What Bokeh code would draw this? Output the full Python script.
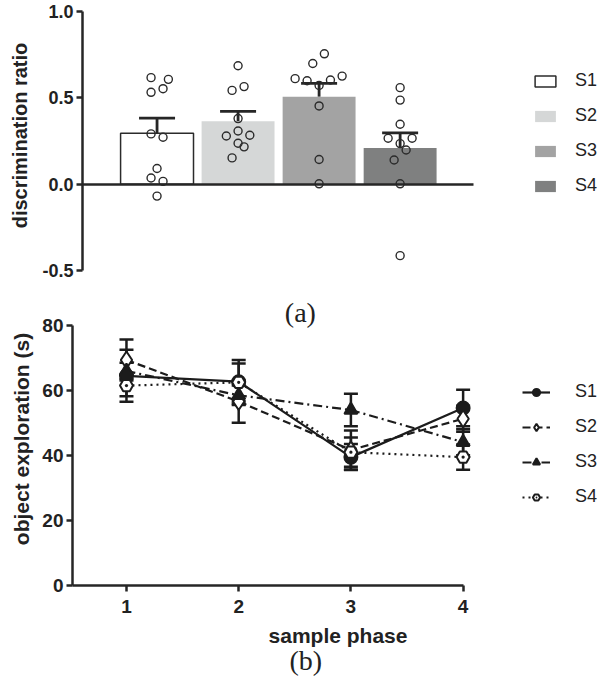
from bokeh.plotting import figure
from bokeh.models import (Range1d, LinearAxis, FixedTicker, NumeralTickFormatter, Whisker,
                          TeeHead, ColumnDataSource, Legend, LegendItem, Label, Title)
from bokeh.layouts import column
from bokeh.embed import file_html
from bokeh.resources import INLINE

# ---------------- data (a) ----------------
groups = ["S1", "S2", "S3", "S4"]
group_pos = [1, 2, 3, 4]
bar_means = [0.295, 0.364, 0.506, 0.209]
bar_sem = [0.088, 0.058, 0.078, 0.088]
bar_colors = ["#ffffff", "#d5d7d7", "#a3a3a3", "#7f8080"]
bar_lines = ["#2b2b2b", None, None, None]

pts_S1 = [0.617, 0.607, 0.532, 0.553, 0.291, 0.272, 0.091, 0.036, 0.016, -0.069]
pts_S2 = [0.686, 0.543, 0.565, 0.380, 0.279, 0.308, 0.283, 0.237, 0.216, 0.152]
pts_S3 = [0.755, 0.699, 0.611, 0.599, 0.572, 0.603, 0.626, 0.453, 0.143, 0.002]
pts_S4 = [0.559, 0.487, 0.347, 0.266, 0.266, 0.235, 0.198, 0.140, 0.002, -0.414]
jit_S1 = [-0.074, 0.14, -0.074, 0.074, -0.074, 0.074, 0.0, -0.074, 0.074, 0.0]
jit_S2 = [0.0, -0.074, 0.074, 0.0, -0.145, 0.0, 0.145, 0.0, 0.074, -0.074]
jit_S3 = [0.065, -0.078, -0.296, -0.148, 0.0, 0.14, 0.284, 0.0, 0.0, 0.0]
jit_S4 = [0.0, 0.0, 0.0, -0.148, 0.148, 0.0, 0.074, -0.074, 0.0, 0.0]

# ---------------- data (b) ----------------
phases = [1, 2, 3, 4]
expl_S1 = [64.5, 62.7, 39.5, 54.6]
expl_S2 = [69.4, 56.6, 41.7, 51.3]
expl_S3 = [66.0, 58.5, 54.0, 44.1]
expl_S4 = [61.5, 62.5, 41.0, 39.5]
sem_S1 = [8.0, 6.7, 4.0, 5.6]
sem_S2 = [6.3, 6.5, 6.0, 4.0]
sem_S3 = [2.5, 3.0, 5.0, 4.0]
sem_S4 = [3.3, 5.8, 4.5, 3.9]

FONT = "Liberation Sans"
AX = "#262626"

def style_axis(ax, tick_size, label_size):
    ax.axis_line_width = 2.5
    ax.axis_line_color = AX
    ax.major_tick_line_width = 2.5
    ax.major_tick_line_color = AX
    ax.major_tick_out = 6
    ax.major_tick_in = 0
    ax.minor_tick_line_color = None
    ax.major_label_text_font = FONT
    ax.major_label_text_font_style = "bold"
    ax.major_label_text_font_size = tick_size
    ax.major_label_text_color = "#222222"
    ax.axis_label_text_font = FONT
    ax.axis_label_text_font_style = "bold"
    ax.axis_label_text_font_size = label_size
    ax.axis_label_text_color = "#222222"

# ================= panel (a) =================
p1 = figure(width=603, height=292, x_range=Range1d(0.08, 6.51), y_range=Range1d(-0.5, 1.0637),
            output_backend="svg", toolbar_location=None, x_axis_location=None,
            frame_align=False,
            min_border_left=82, min_border_right=0, min_border_top=0, min_border_bottom=22)
p1.grid.visible = False
p1.outline_line_color = None

yax = p1.yaxis[0]
yax.ticker = FixedTicker(ticks=[-0.5, 0.0, 0.5, 1.0])
yax.formatter = NumeralTickFormatter(format="0.0")
yax.bounds = (-0.5, 1.0)
yax.axis_label = "discrimination ratio"
style_axis(yax, "18px", "20px")
yax.major_label_standoff = 3
yax.axis_label_standoff = 8

zero_axis = LinearAxis(fixed_location=0, bounds=(0.08, 4.91), ticker=FixedTicker(ticks=[]))
zero_axis.axis_line_width = 2.5
zero_axis.axis_line_color = AX
zero_axis.major_tick_line_color = None
zero_axis.minor_tick_line_color = None
zero_axis.major_tick_out = 0
zero_axis.major_label_standoff = 0
zero_axis.major_label_text_font_size = "0px"
p1.add_layout(zero_axis, "below")

bar_src = ColumnDataSource(dict(x=group_pos, top=bar_means, color=bar_colors, line=bar_lines,
                                upper=[m + s for m, s in zip(bar_means, bar_sem)]))
bars = p1.vbar(x="x", top="top", width=0.9, fill_color="color", line_color="line",
               line_width=1.5, source=bar_src)

wh = Whisker(base="x", lower="top", upper="upper", source=bar_src, dimension="height",
             line_width=2.8, line_color=AX,
             upper_head=TeeHead(size=36, line_width=2.8, line_color=AX), lower_head=None)
p1.add_layout(wh)

for pos, pts, jit in zip(group_pos, [pts_S1, pts_S2, pts_S3, pts_S4],
                         [jit_S1, jit_S2, jit_S3, jit_S4]):
    p1.scatter(x=[pos + j for j in jit], y=pts, size=8, fill_color=None,
               line_color="#2b2b2b", line_width=1.4)

leg1 = Legend(items=[LegendItem(label=g, renderers=[bars], index=i) for i, g in enumerate(groups)],
              location=(450, 74), padding=0, margin=0, spacing=14, glyph_width=26,
              glyph_height=14, label_standoff=17, label_height=19,
              label_text_font=FONT, label_text_font_size="18px", label_text_color="#222222",
              border_line_alpha=0, background_fill_alpha=0)
p1.add_layout(leg1)

# ================= panel (b) =================
p2 = figure(width=603, height=389, x_range=Range1d(0.519, 5.251), y_range=Range1d(0, 90.15),
            output_backend="svg", toolbar_location=None, frame_align=False,
            min_border_left=72, min_border_right=0, min_border_top=0, min_border_bottom=96)
p2.grid.visible = False
p2.outline_line_color = None

xax = p2.xaxis[0]
xax.ticker = FixedTicker(ticks=phases)
xax.bounds = (0.519, 4)
xax.axis_label = "sample phase"
style_axis(xax, "19px", "21px")
xax.major_label_standoff = 8
xax.axis_label_standoff = 8

yax2 = p2.yaxis[0]
yax2.ticker = FixedTicker(ticks=[0, 20, 40, 60, 80])
yax2.bounds = (0, 80)
yax2.axis_label = "object exploration (s)"
style_axis(yax2, "19px", "21px")
yax2.major_label_standoff = 3
yax2.axis_label_standoff = 6

LC = "#1c1c1c"
series = [
    ("S1", expl_S1, sem_S1, "solid", "circle", LC, 13),
    ("S2", expl_S2, sem_S2, "8 4", "diamond", "white", 17),
    ("S3", expl_S3, sem_S3, "9 4 2 4", "triangle", LC, 13),
    ("S4", expl_S4, sem_S4, "2 4", "hex_dot", "white", 13),
]
items2 = []
for name, ys, sems, dash, marker, fill, msize in series:
    src = ColumnDataSource(dict(x=phases, y=ys, lo=[a - b for a, b in zip(ys, sems)],
                                hi=[a + b for a, b in zip(ys, sems)]))
    ln = p2.line(x="x", y="y", source=src, line_width=2.2, line_color=LC, line_dash=dash)
    w = Whisker(base="x", lower="lo", upper="hi", source=src, dimension="height",
                line_width=2.5, line_color=LC,
                upper_head=TeeHead(size=14, line_width=2.5, line_color=LC),
                lower_head=TeeHead(size=14, line_width=2.5, line_color=LC))
    p2.add_layout(w)
    sc = p2.scatter(x="x", y="y", source=src, marker=marker, size=msize,
                    fill_color=fill, line_color=LC, line_width=2)
    items2.append(LegendItem(label=name, renderers=[ln, sc]))

leg2 = Legend(items=items2, location=(450, 78), padding=0, margin=0, spacing=14,
              glyph_width=28, glyph_height=18, label_standoff=25, label_height=19,
              label_text_font=FONT, label_text_font_size="18px", label_text_color="#222222",
              border_line_alpha=0, background_fill_alpha=0)
p2.add_layout(leg2)

p2.add_layout(Label(x=2.55, y=84, text="(a)", text_font="Liberation Serif",
                    text_font_size="28px", text_align="center", text_baseline="middle",
                    text_color="#222222"))
p2.add_layout(Title(text="(b)", align="left", offset=217, standoff=-14,
                    text_font="Liberation Serif", text_font_size="28px",
                    text_font_style="normal", text_color="#222222"), "below")

layout = column(p1, p2, spacing=0)
open("out.html", "w").write(file_html(layout, INLINE))
